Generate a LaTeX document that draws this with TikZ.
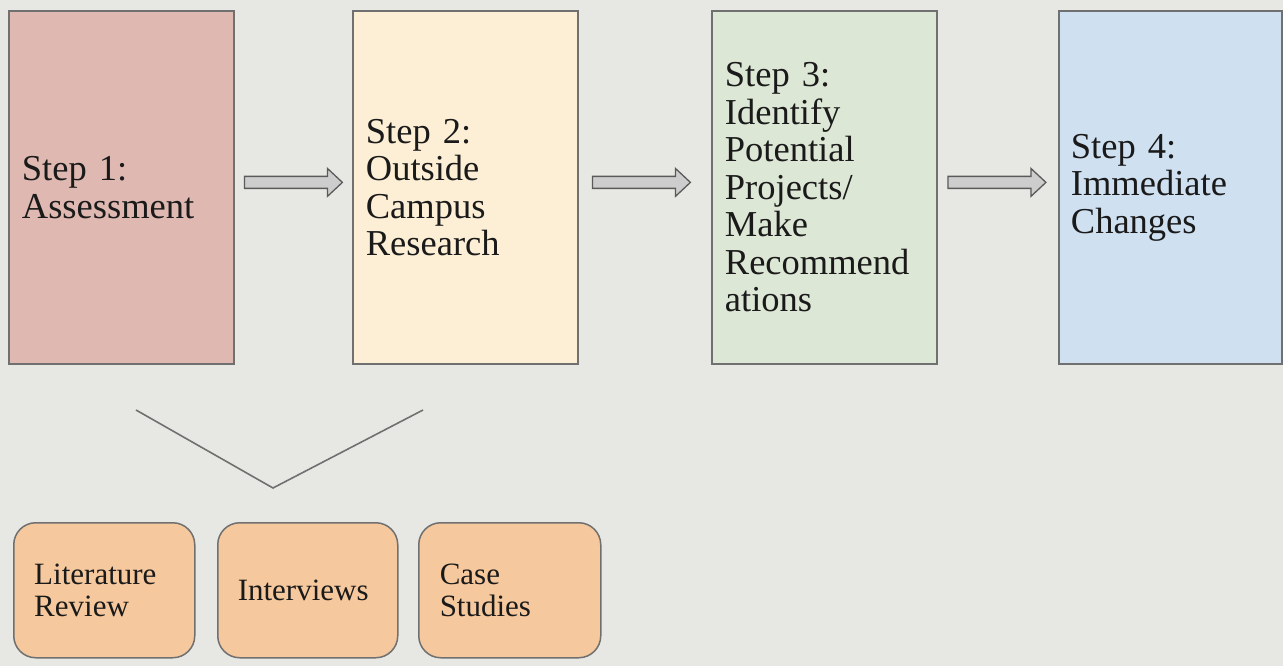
\documentclass[tikz,border=0pt]{standalone}
\usepackage{fontspec}
\setmainfont{Liberation Serif}
\frenchspacing
\usetikzlibrary{calc}
\definecolor{bg}{HTML}{E7E7E3}
\definecolor{cA}{HTML}{DFB9B1}
\definecolor{cB}{HTML}{FDEFD5}
\definecolor{cC}{HTML}{DDE7D5}
\definecolor{cD}{HTML}{CFE0F1}
\definecolor{cE}{HTML}{F5C89D}
\definecolor{edge}{HTML}{707070}
\definecolor{arrfill}{HTML}{CDCDCD}
\definecolor{arredge}{HTML}{5A5A5A}
\definecolor{txt}{HTML}{1A1A1A}
\tikzset{
  stepbox/.style={draw=edge, line width=1.8pt, rectangle, minimum width=225, minimum height=353,
    text width=199, align=left, inner sep=0pt, anchor=north west, text=txt,
    font=\fontsize{36.5}{37.5}\selectfont\frenchspacing},
  subbox/.style={draw=edge, line width=1.5pt, rounded corners=22, minimum width=181, minimum height=135,
    text width=140, align=left, inner sep=0pt, anchor=north west, text=txt,
    font=\fontsize{31}{32}\selectfont},
  blockarrow/.style={draw=arredge, fill=arrfill, line width=1.3pt, line join=miter},
  vline/.style={draw=edge, line width=1.6pt}
}
\begin{document}
\begin{tikzpicture}[x=1pt,y=-1pt]
\useasboundingbox (0,0) rectangle (1283,666);
\fill[bg] (0,0) rectangle (1283,666);
\node[stepbox, fill=cA] (s1) at (8,10) {Step 1:\\Assessment};
\node[stepbox, fill=cB] (s2) at (352,10) {Step 2:\\Outside\\Campus\\Research};
\node[stepbox, fill=cC] (s3) at (711,10) {Step 3:\\Identify\\Potential\\Projects/\\Make\\Recommend\\ations};
\node[stepbox, fill=cD, minimum width=223] (s4) at (1058,10) {Step 4:\\Immediate\\Changes};
\foreach \a/\b/\n/\dx in {s1/s2/a1/0, s2/s3/a2/-3.5, s3/s4/a3/-1}{
  \coordinate (\n) at ($(\a.east)!0.5!(\b.west)+(\dx,-5)$);
  \draw[blockarrow] ([shift={(-49,-6)}]\n) -- ++(83,0) -- ++(0,-8) -- ++(15,14)
     -- ++(-15,14) -- ++(0,-8) -- ++(-83,0) -- cycle;
}
\node[subbox, fill=cE] (r1) at (13,522) {Literature\\Review};
\node[subbox, fill=cE, minimum width=180] (r2) at (217,522) {Interviews};
\node[subbox, fill=cE, minimum width=182] (r3) at (418,522) {Case\\Studies};
\coordinate (vl) at (136,410);
\coordinate (vm) at (273,488);
\coordinate (vr) at (423,410);
\draw[vline] (vl) -- (vm) -- (vr);
\end{tikzpicture}
\end{document}
